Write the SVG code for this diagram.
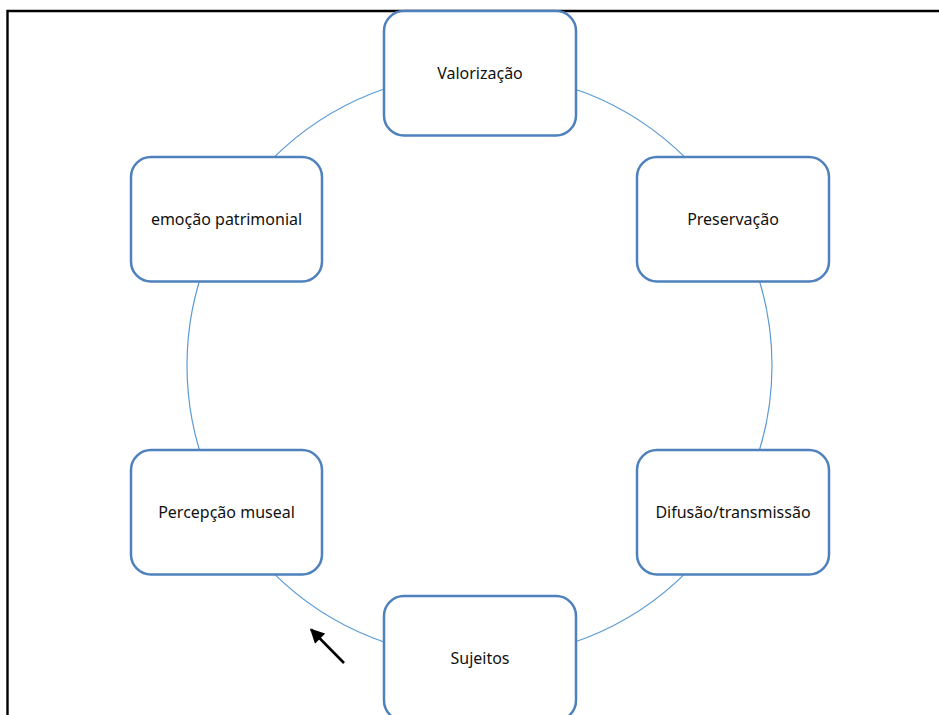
<svg xmlns="http://www.w3.org/2000/svg" width="939" height="715" viewBox="0 0 939 715">
  <style>
    .box { fill: #ffffff; stroke: #4F81BD; stroke-width: 2.5; }
    .lbl { font-family: "Noto Sans", "Open Sans", sans-serif; font-size: 16px; fill: #111111; text-anchor: middle; }
    .ring { fill: none; stroke: #5B9BD5; stroke-width: 1.2; }
    .frame { fill: none; stroke: #000000; stroke-width: 2.4; }
  </style>
  <defs>
    <marker id="ah" viewBox="0 0 10 10" refX="9" refY="5" markerWidth="6" markerHeight="5.5" orient="auto" markerUnits="strokeWidth">
      <path d="M0,0 L10,5 L0,10 Z" fill="#000000"/>
    </marker>
  </defs>
  <rect width="939" height="715" fill="#ffffff"/>
  <g id="frame">
    <polyline class="frame" points="7.5,715 7.5,11 939,11"/>
  </g>
  <g id="connectors">
    <circle class="ring" cx="479.5" cy="365.5" r="292.5"/>
    <line x1="344" y1="663" x2="311" y2="629.5" stroke="#000000" stroke-width="2.6" marker-end="url(#ah)"/>
  </g>
  <g id="node-valorizacao">
    <rect class="box" x="384" y="11" width="192" height="124.5" rx="20" ry="20"/>
    <text class="lbl" x="480" y="79.3">Valorização</text>
  </g>
  <g id="node-preservacao">
    <rect class="box" x="637" y="157" width="192" height="124.5" rx="20" ry="20"/>
    <text class="lbl" x="733" y="225.3">Preservação</text>
  </g>
  <g id="node-difusao">
    <rect class="box" x="637" y="450" width="192" height="124.5" rx="20" ry="20"/>
    <text class="lbl" x="733" y="518.3">Difusão/transmissão</text>
  </g>
  <g id="node-sujeitos">
    <rect class="box" x="384" y="596" width="192" height="124.5" rx="20" ry="20"/>
    <text class="lbl" x="480" y="664.3">Sujeitos</text>
  </g>
  <g id="node-percepcao">
    <rect class="box" x="131" y="450" width="191" height="124.5" rx="20" ry="20"/>
    <text class="lbl" x="226.5" y="518.3">Percepção museal</text>
  </g>
  <g id="node-emocao">
    <rect class="box" x="131" y="157" width="191" height="124.5" rx="20" ry="20"/>
    <text class="lbl" x="226.5" y="225.3">emoção patrimonial</text>
  </g>
</svg>
